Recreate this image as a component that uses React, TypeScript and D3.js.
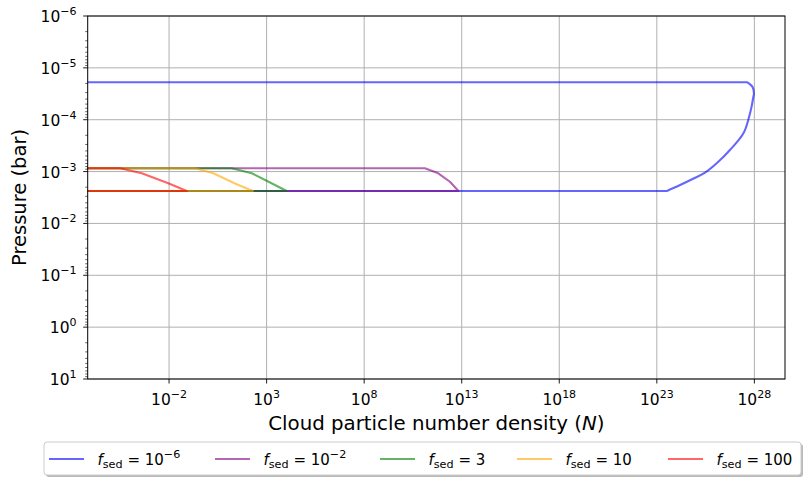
import { useEffect, useRef } from 'react';
import * as d3 from 'd3';

const W = 811;
const H = 486;
const plot = { left: 87.7, right: 785, top: 16, bottom: 379 };

// axis ticks (decade exponents)
const xTickExps = [-2, 3, 8, 13, 18, 23, 28];
const yTickExps = [-6, -5, -4, -3, -2, -1, 0, 1];

// series: colours and label pieces for f_sed
const colors = ['blue', 'purple', 'green', 'orange', 'red'];
const labelBase = ['10', '10', '3', '10', '100'];
const labelExp = ['\u22126', '\u22122', '', '', ''];

// N below the left axis limit (clipped at the frame)
const N_EDGE = 1e-7;

const blueN = [N_EDGE, 4.4e27, 7.9e27, 9.5e27, 8.9e27, 7.2e27, 5.4e27, 2.75e27, 5.6e26, 1.29e26, 2.95e25, 6.8e24, 1.55e24, 3.3e23, N_EDGE];
const blueP = [1.9e-5, 1.9e-5, 2.3e-5, 3.1e-5, 3.6e-5, 5.6e-5, 8.75e-5, 1.83e-4, 3.84e-4, 6.7e-4, 1.05e-3, 1.39e-3, 1.82e-3, 2.37e-3, 2.37e-3];

const purpleN = [N_EDGE, 1.3e11, 6.3e11, 2.5e12, 6.8e12, N_EDGE];
const purpleP = [8.65e-4, 8.65e-4, 1.08e-3, 1.57e-3, 2.37e-3, 2.37e-3];

const greenN = [N_EDGE, 16, 174, 1.0e3, 1.07e4, N_EDGE];
const greenP = [8.65e-4, 8.65e-4, 1.08e-3, 1.5e-3, 2.37e-3, 2.37e-3];

const orangeN = [N_EDGE, 0.21, 1.86, 24, 195, N_EDGE];
const orangeP = [8.65e-4, 8.65e-4, 1.08e-3, 1.7e-3, 2.37e-3, 2.37e-3];

const redN = [N_EDGE, 3.1e-5, 4.0e-4, 9.1e-3, 0.081, N_EDGE];
const redP = [8.65e-4, 8.65e-4, 1.08e-3, 1.68e-3, 2.37e-3, 2.37e-3];

const seriesN = [blueN, purpleN, greenN, orangeN, redN];
const seriesP = [blueP, purpleP, greenP, orangeP, redP];

// legend layout
const legendHandleX = [49, 215, 380, 517, 668];

const FONT = 'DejaVu Sans, sans-serif';

function expText(e: number) {
  return e < 0 ? '\u2212' + Math.abs(e) : String(e);
}

export default function App() {
  const svgRef = useRef<SVGSVGElement>(null);

  useEffect(() => {
    if (!svgRef.current) return;
    const svg = d3.select(svgRef.current);
    svg.selectAll('*').remove();

    const x = d3.scaleLog().domain([Math.pow(10, -6.17), Math.pow(10, 29.57)]).range([plot.left, plot.right]);
    const y = d3.scaleLog().domain([1e-6, 1e1]).range([plot.top, plot.bottom]);

    svg.append('rect').attr('width', W).attr('height', H).attr('fill', '#fff');

    svg
      .append('defs')
      .append('clipPath')
      .attr('id', 'plotclip')
      .append('rect')
      .attr('x', plot.left)
      .attr('y', plot.top)
      .attr('width', plot.right - plot.left)
      .attr('height', plot.bottom - plot.top);

    // grid
    const grid = svg.append('g');
    xTickExps.forEach((e) => {
      grid
        .append('line')
        .attr('x1', x(Math.pow(10, e)))
        .attr('x2', x(Math.pow(10, e)))
        .attr('y1', plot.top)
        .attr('y2', plot.bottom)
        .attr('stroke', '#b0b0b0')
        .attr('stroke-width', 1);
    });
    yTickExps.forEach((e) => {
      grid
        .append('line')
        .attr('x1', plot.left)
        .attr('x2', plot.right)
        .attr('y1', y(Math.pow(10, e)))
        .attr('y2', y(Math.pow(10, e)))
        .attr('stroke', '#b0b0b0')
        .attr('stroke-width', 1);
    });

    // lines: straight runs at cloud top/base, smooth bend for the blue profile
    const lines = svg.append('g').attr('clip-path', 'url(#plotclip)');
    seriesN.forEach((ns, k) => {
      const ps = seriesP[k];
      const pts: [number, number][] = ns.map((n, i) => [x(n), y(ps[i])]);
      let d: string;
      if (k === 0) {
        const inner = pts.slice(1, pts.length - 1);
        const smooth = d3.line().curve(d3.curveCatmullRom.alpha(0.5))(inner) || '';
        const first = pts[0];
        const last = pts[pts.length - 1];
        d = `M${first[0]},${first[1]}L` + smooth.slice(1) + `L${last[0]},${last[1]}`;
      } else {
        d = d3.line()(pts) || '';
      }
      lines
        .append('path')
        .attr('d', d)
        .attr('fill', 'none')
        .attr('stroke', colors[k])
        .attr('stroke-opacity', 0.6)
        .attr('stroke-width', 2.1)
        .attr('stroke-linejoin', 'round');
    });

    // frame
    svg
      .append('rect')
      .attr('x', plot.left)
      .attr('y', plot.top)
      .attr('width', plot.right - plot.left)
      .attr('height', plot.bottom - plot.top)
      .attr('fill', 'none')
      .attr('stroke', '#000')
      .attr('stroke-width', 1);

    // x ticks
    const xt = svg.append('g');
    xTickExps.forEach((e) => {
      const px = x(Math.pow(10, e));
      xt.append('line').attr('x1', px).attr('x2', px).attr('y1', plot.bottom).attr('y2', plot.bottom + 4.5).attr('stroke', '#000').attr('stroke-width', 0.9);
      const t = xt
        .append('text')
        .attr('x', px)
        .attr('y', 405)
        .attr('text-anchor', 'middle')
        .attr('font-family', FONT)
        .attr('font-size', 15.5)
        .attr('fill', '#000');
      t.append('tspan').text('10');
      t.append('tspan').attr('font-size', 11).attr('dy', -7).text(expText(e));
    });

    // y ticks
    const yt = svg.append('g');
    yTickExps.forEach((e) => {
      const py = y(Math.pow(10, e));
      yt.append('line').attr('x1', plot.left - 4.5).attr('x2', plot.left).attr('y1', py).attr('y2', py).attr('stroke', '#000').attr('stroke-width', 0.9);
      const t = yt
        .append('text')
        .attr('x', 76.5)
        .attr('y', py + 6)
        .attr('text-anchor', 'end')
        .attr('font-family', FONT)
        .attr('font-size', 15.5)
        .attr('fill', '#000');
      t.append('tspan').text('10');
      t.append('tspan').attr('font-size', 11).attr('dy', -7).text(expText(e));
      if (e < 1) {
        for (let m = 2; m <= 9; m++) {
          const pm = y(m * Math.pow(10, e));
          yt.append('line').attr('x1', plot.left - 2.5).attr('x2', plot.left).attr('y1', pm).attr('y2', pm).attr('stroke', '#000').attr('stroke-width', 0.6);
        }
      }
    });

    // axis labels
    const xl = svg
      .append('text')
      .attr('x', (plot.left + plot.right) / 2)
      .attr('y', 430)
      .attr('text-anchor', 'middle')
      .attr('font-family', FONT)
      .attr('font-size', 19.8)
      .attr('fill', '#000');
    xl.append('tspan').text('Cloud particle number density (');
    xl.append('tspan').attr('font-style', 'italic').text('N');
    xl.append('tspan').text(')');

    svg
      .append('text')
      .attr('transform', `translate(26, ${(plot.top + plot.bottom) / 2}) rotate(-90)`)
      .attr('text-anchor', 'middle')
      .attr('font-family', FONT)
      .attr('font-size', 19.5)
      .attr('fill', '#000')
      .text('Pressure (bar)');

    // legend
    const lg = svg.append('g');
    lg.append('rect').attr('x', 46).attr('y', 444).attr('width', 757).attr('height', 33).attr('rx', 3).attr('fill', '#8a8a8a').attr('opacity', 0.6);
    lg.append('rect').attr('x', 44).attr('y', 442).attr('width', 757).attr('height', 33).attr('rx', 3).attr('fill', '#fff').attr('stroke', '#cccccc').attr('stroke-width', 1);
    colors.forEach((c, k) => {
      const hx = legendHandleX[k];
      lg.append('line').attr('x1', hx).attr('x2', hx + 35).attr('y1', 459).attr('y2', 459).attr('stroke', c).attr('stroke-opacity', 0.6).attr('stroke-width', 2.1);
      const t = lg
        .append('text')
        .attr('x', hx + 48.5)
        .attr('y', 464.5)
        .attr('font-family', FONT)
        .attr('font-size', 15)
        .attr('fill', '#000');
      t.append('tspan').attr('font-style', 'italic').text('f');
      t.append('tspan').attr('font-size', 11.2).attr('dy', 3.5).text('sed');
      t.append('tspan').attr('dy', -3.5).text(' = ' + labelBase[k]);
      if (labelExp[k]) {
        t.append('tspan').attr('font-size', 11.2).attr('dy', -6.5).text(labelExp[k]);
      }
    });
  }, []);

  return (
    <svg
      ref={svgRef}
      width={W}
      height={H}
      viewBox={`0 0 ${W} ${H}`}
      style={{ position: 'absolute', left: 0, top: 0 }}
    />
  );
}
